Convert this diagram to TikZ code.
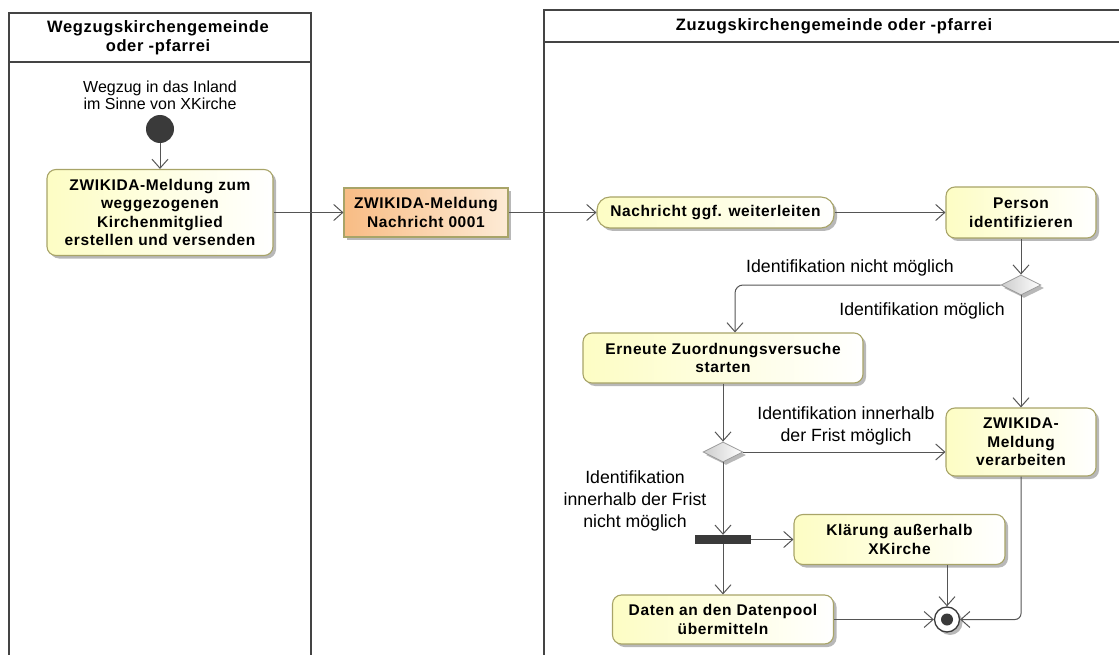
\documentclass[tikz,border=0pt]{standalone}
\usepackage{fontspec}
\setmainfont{Liberation Sans}
\newfontfamily\boxfont{Liberation Sans}[LetterSpace=4]
\usetikzlibrary{arrows.meta,shapes.geometric,shadows}
\definecolor{lanec}{HTML}{444444}
\definecolor{actfill}{HTML}{FDFDC4}
\definecolor{actborder}{HTML}{A8A468}
\definecolor{objfill}{HTML}{F8BC84}
\definecolor{objfill2}{HTML}{FDEBD6}
\definecolor{arrowc}{HTML}{555555}
\definecolor{shadowc}{HTML}{B8B8B8}
\definecolor{darkc}{HTML}{3A3A3A}
\tikzset{
  shad/.style={drop shadow={shadow xshift=3pt,shadow yshift=-3pt,fill=shadowc,opacity=1}},
  act/.style={draw=actborder, line width=1.1pt, rounded corners=9pt, left color=actfill, right color=white,
    shad, align=center, inner sep=0pt, font=\boxfont\bfseries\fontsize{15.5}{18.5}\selectfont},
  obj/.style={draw=actborder, line width=1.1pt, left color=objfill, right color=objfill2,
    shad, align=center, inner sep=0pt, font=\boxfont\bfseries\fontsize{15.5}{18.5}\selectfont},
  dec/.style={diamond, draw=gray!80, line width=0.8pt, left color=gray!40, right color=white, shad,
    minimum width=40pt, minimum height=20pt, inner sep=0pt, aspect=2},
  lbl/.style={align=center, inner sep=0pt, font=\fontsize{17.7}{22}\selectfont},
  hdr/.style={align=center, inner sep=0pt, font=\boxfont\bfseries\fontsize{16.5}{19}\selectfont},
  lane/.style={draw=lanec, line width=2.5pt},
  flow/.style={draw=arrowc, line width=1pt, -{Straight Barb[length=9pt,width=16pt,line width=1pt]}},
}
\begin{document}
\begin{tikzpicture}[x=1pt,y=-1pt]
\useasboundingbox (0,0) rectangle (1119,655);
\clip (0,0) rectangle (1119,655);
% lanes
\draw[lane] (9,670) -- (9,13) -- (311,13) -- (311,670);
\draw[lane] (9,62) -- (311,62);
\draw[lane] (544,670) -- (544,10) -- (1140,10);
\draw[lane] (544,42) -- (1140,42);
\node[hdr] (h1) at (158,38) {Wegzugskirchengemeinde\\oder -pfarrei};
\node[hdr] (h2) at (834,26) {Zuzugskirchengemeinde oder -pfarrei};
% start
\node[lbl, font=\fontsize{16}{17}\selectfont] (startlbl) at (160,95) {Wegzug in das Inland\\im Sinne von XKirche};
\node[circle, fill=darkc, minimum size=28pt, inner sep=0pt] (start) at (160,129) {};
% nodes
\node[act, minimum width=226pt, minimum height=86pt] (a1) at (160,212.5) {ZWIKIDA-Meldung zum\\weggezogenen\\Kirchenmitglied\\erstellen und versenden};
\node[obj, minimum width=164pt, minimum height=49pt] (obj) at (426,212.5) {ZWIKIDA-Meldung\\Nachricht 0001};
\node[act, rounded corners=13pt, minimum width=237pt, minimum height=31pt] (nach) at (715.5,212.5) {Nachricht ggf. weiterleiten};
\node[act, minimum width=150pt, minimum height=51pt] (pers) at (1021,212.5) {Person\\identifizieren};
\node[dec] (d1) at (1021,285) {};
\node[act, minimum width=280pt, minimum height=50pt] (ern) at (723,358) {Erneute Zuordnungsversuche\\starten};
\node[act, minimum width=150pt, minimum height=68pt] (verarb) at (1021,442) {ZWIKIDA-\\Meldung\\verarbeiten};
\node[dec] (d2) at (723,452) {};
\node[fill=darkc, minimum width=56pt, minimum height=9pt, inner sep=0pt] (fork) at (723,539.5) {};
\node[act, minimum width=211pt, minimum height=50pt] (klar) at (899.5,539.5) {Klärung außerhalb\\XKirche};
\node[act, minimum width=221pt, minimum height=49pt] (daten) at (723,619.5) {Daten an den Datenpool\\übermitteln};
\node[circle, draw=darkc, fill=white, line width=1.3pt, minimum size=25pt, inner sep=0pt, shad] (final) at (947,619.5) {};
\node[circle, fill=darkc, minimum size=12pt, inner sep=0pt] (finalin) at (final) {};
% labels
\node[lbl] (l1) at (850,268) {Identifikation nicht möglich};
\node[lbl] (l2) at (922,311) {Identifikation möglich};
\node[lbl] (l3) at (846,426) {Identifikation innerhalb\\der Frist möglich};
\node[lbl] (l4) at (635,501) {Identifikation\\innerhalb der Frist\\nicht möglich};
% connectors
\coordinate (c1) at (735,0);
\draw[flow] (start) -- (a1);
\draw[flow] (a1.east) -- (obj.west);
\draw[flow] (obj.east) -- (nach.west);
\draw[flow] (nach.east) -- (pers.west);
\draw[flow] (pers.south) -- (d1.north);
\draw[flow, rounded corners=8pt] (d1.west) -| (c1 |- ern.north);
\draw[flow] (d1.south) -- (verarb.north);
\draw[flow] (ern.south) -- (d2.north);
\draw[flow] (d2.east) -- (d2.east -| verarb.west);
\draw[flow] (d2.south) -- (fork.north);
\draw[flow] (fork.east) -- (klar.west);
\draw[flow] (fork.south) -- (daten.north);
\draw[flow] (daten.east) -- (final.west);
\draw[flow] (final |- klar.south) -- (final.north);
\draw[flow, rounded corners=6pt] (verarb.south) |- (final.east);
\end{tikzpicture}
\end{document}
